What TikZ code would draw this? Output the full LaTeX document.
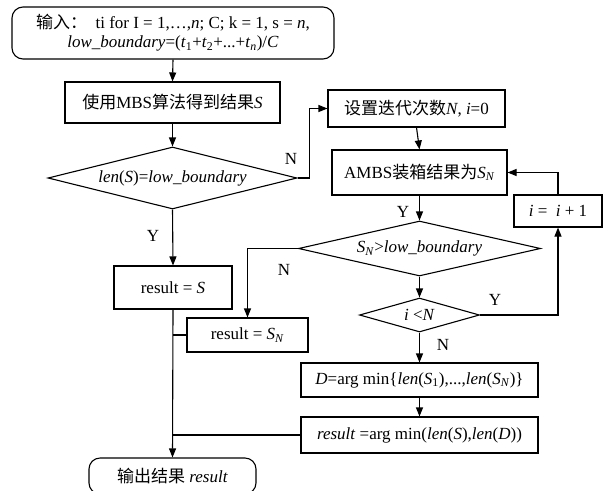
\documentclass[tikz,border=0pt]{standalone}
\usepackage{fontspec}
\setmainfont{Liberation Serif}
\newfontfamily\cjk{Noto Sans CJK SC}
\usetikzlibrary{arrows.meta,shapes.geometric}
\newcommand\sbs[1]{\textsubscript{#1}}
\begin{document}
\begin{tikzpicture}[x=1pt,y=-1pt,
  font=\fontsize{17}{19}\selectfont,
  line width=1.1pt,
  arr/.style={-{Triangle[length=9pt,width=7pt]}},
  box/.style={draw,rectangle,inner sep=0pt,align=center},
  rbox/.style={draw,rectangle,rounded corners=11pt,inner sep=0pt,align=center},
  dia/.style={draw,diamond,inner sep=0pt},
  lab/.style={inner sep=0pt}]
\useasboundingbox (0,0) rectangle (609,490);
\clip (0,0) rectangle (609,490);
\fill[white] (0,0) rectangle (609,490);
% nodes
\node[rbox,minimum width=322pt,minimum height=52pt] (start) at (173,33)
  {{\cjk 输入：}\ \ ti for I = 1,…,\textit{n}; C; k = 1, s = \textit{n},\\
   \textit{low\_boundary}=(\textit{t}\sbs{1}+\textit{t}\sbs{2}+...+\textit{t}\sbs{\textit{n}})/\textit{C}};
\node[box,minimum width=215pt,minimum height=41pt] (mbs) at (172.5,102.5)
  {{\cjk 使用}MBS{\cjk 算法得到结果}\textit{S}};
\node[dia,minimum width=249pt,minimum height=62pt] (d1) at (172.5,178) {};
\node[lab] (d1t) at (d1.center) {\textit{len}(\textit{S})=\textit{low\_boundary}};
\node[box,minimum width=118pt,minimum height=43pt] (resS) at (173,287.5)
  {result = \textit{S}};
\node[box,minimum width=177pt,minimum height=37pt] (set) at (416.5,108.5)
  {{\cjk 设置迭代次数}\textit{N}, \textit{i}=0};
\node[box,minimum width=175pt,minimum height=45pt] (ambs) at (419.5,172.5)
  {AMBS{\cjk 装箱结果为}\textit{S}\sbs{\textit{N}}};
\node[dia,minimum width=242pt,minimum height=55pt] (d2) at (419.5,248.5) {};
\node[lab] (d2t) at (d2.center) {\textit{S}\sbs{\textit{N}}>\textit{low\_boundary}};
\node[box,minimum width=88pt,minimum height=32pt] (inc) at (558,211)
  {\textit{i} = \ \textit{i} + 1};
\node[dia,minimum width=120pt,minimum height=34pt] (d3) at (419.5,315) {};
\node[lab] (d3t) at (d3.center) {\textit{i} <\textit{N}};
\node[box,minimum width=121pt,minimum height=34pt] (resSN) at (247.5,335)
  {result = \textit{S}\sbs{\textit{N}}};
\node[box,minimum width=237pt,minimum height=34pt] (dbox) at (419.5,380)
  {\textit{D}=arg min\{\textit{len}(\textit{S}\sbs{1}),...,\textit{len}(\textit{S}\sbs{\textit{N}})\}};
\node[box,minimum width=237pt,minimum height=36pt] (res) at (419.5,435)
  {\textit{result} =arg min(\textit{len}(\textit{S}),\textit{len}(\textit{D}))};
\node[rbox,minimum width=167pt,minimum height=36pt] (end) at (172.5,476)
  {{\cjk 输出结果} \textit{result}};
% labels
\node[lab] (n1) at (291,159) {N};
\node[lab] (y1) at (153,236) {Y};
\node[lab] (y2) at (403,212) {Y};
\node[lab] (n2) at (284,270) {N};
\node[lab] (y3) at (495,300) {Y};
\node[lab] (n3) at (443,345) {N};
% connectors
\draw[arr] (start.south) -- (mbs.north);
\draw[arr] (mbs.south) -- (d1.north);
\draw[arr] (d1.south) -- (resS.north);
\draw[arr] (d1.east) -- ++(12,0) |- (set.west);
\draw[arr] (set.south) -- (ambs.north);
\draw[arr] (ambs.south) -- (d2.north);
\draw[arr] (d2.south) -- (d3.north);
\draw[arr] (d3.east) -| (inc.south);
\draw[arr] (inc.north) |- (ambs.east);
\draw[arr] (d2.west) -| (resSN.north);
\draw[arr] (d3.south) -- (dbox.north);
\draw[arr] (dbox.south) -- (res.north);
\draw[arr] (resS.south) -- (end.north);
\draw (resSN.west) -- (resS.south |- resSN.west);
\draw (res.west) -- (resS.south |- res.west);
\end{tikzpicture}
\end{document}
